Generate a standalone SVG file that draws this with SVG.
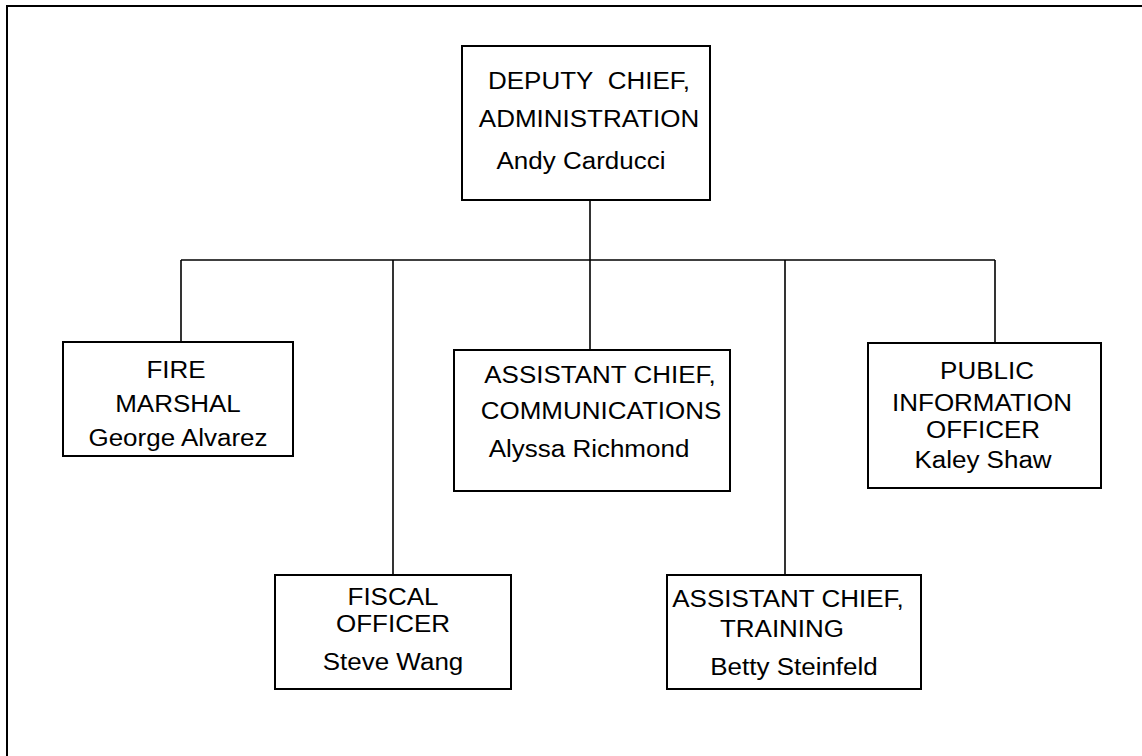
<svg xmlns="http://www.w3.org/2000/svg" width="1142" height="756" viewBox="0 0 1142 756">
<style>
.box{fill:#fff;stroke:#000;stroke-width:2}
.ln{stroke:#000;stroke-width:1.6;fill:none}
text{font-family:"Liberation Sans",Arial,sans-serif;font-size:23px;fill:#000;text-anchor:middle}
</style>
<rect x="0" y="0" width="1142" height="756" fill="#fff"/>
<rect x="7" y="6" width="1145" height="760" fill="none" stroke="#000" stroke-width="2"/>
<g id="connectors">
<line class="ln" x1="590" y1="200" x2="590" y2="260"/>
<line class="ln" x1="181" y1="260" x2="995" y2="260"/>
<line class="ln" x1="181" y1="260" x2="181" y2="342"/>
<line class="ln" x1="393" y1="260" x2="393" y2="575"/>
<line class="ln" x1="590" y1="260" x2="590" y2="350"/>
<line class="ln" x1="785" y1="260" x2="785" y2="575"/>
<line class="ln" x1="995" y1="260" x2="995" y2="343"/>
</g>
<g id="deputy">
<rect class="box" x="462" y="46" width="248" height="154"/>
<text transform="translate(589,89) scale(1.13,1)">DEPUTY&#160; CHIEF,</text>
<text transform="translate(589,127) scale(1.13,1)">ADMINISTRATION</text>
<text transform="translate(581,169) scale(1.13,1)">Andy Carducci</text>
</g>
<g id="fire-marshal">
<rect class="box" x="63" y="342" width="230" height="114"/>
<text transform="translate(176,378) scale(1.13,1)">FIRE</text>
<text transform="translate(178,412) scale(1.13,1)">MARSHAL</text>
<text transform="translate(178,446) scale(1.13,1)">George Alvarez</text>
</g>
<g id="comm">
<rect class="box" x="454" y="350" width="276" height="141"/>
<text transform="translate(600,383) scale(1.13,1)">ASSISTANT CHIEF,</text>
<text transform="translate(601,419) scale(1.13,1)">COMMUNICATIONS</text>
<text transform="translate(589,457) scale(1.13,1)">Alyssa Richmond</text>
</g>
<g id="pio">
<rect class="box" x="868" y="343" width="233" height="145"/>
<text transform="translate(987,379) scale(1.13,1)">PUBLIC</text>
<text transform="translate(982,411) scale(1.13,1)">INFORMATION</text>
<text transform="translate(983,438) scale(1.13,1)">OFFICER</text>
<text transform="translate(983,468) scale(1.13,1)">Kaley Shaw</text>
</g>
<g id="fiscal">
<rect class="box" x="275" y="575" width="236" height="114"/>
<text transform="translate(393,605) scale(1.13,1)">FISCAL</text>
<text transform="translate(393,632) scale(1.13,1)">OFFICER</text>
<text transform="translate(393,670) scale(1.13,1)">Steve Wang</text>
</g>
<g id="training">
<rect class="box" x="667" y="575" width="254" height="114"/>
<text transform="translate(788,607) scale(1.13,1)">ASSISTANT CHIEF,</text>
<text transform="translate(782,637) scale(1.13,1)">TRAINING</text>
<text transform="translate(794,675) scale(1.13,1)">Betty Steinfeld</text>
</g>
</svg>
